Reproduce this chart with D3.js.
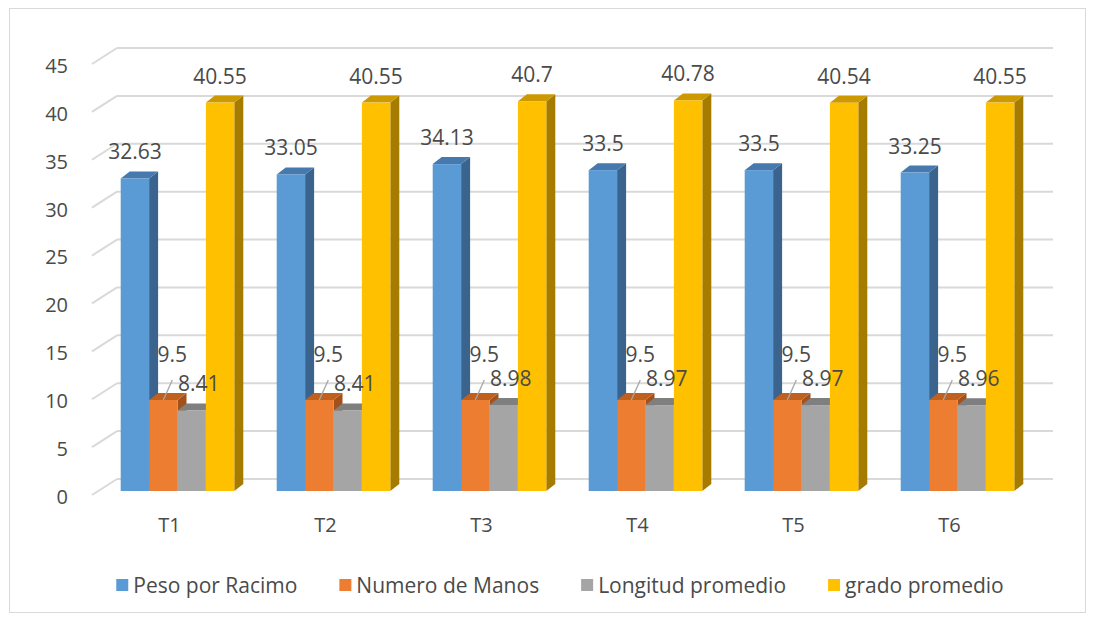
<!DOCTYPE html>
<html>
<head>
<meta charset="utf-8">
<script src="https://cdn.jsdelivr.net/npm/d3@7"></script>
<style>
  html, body { margin: 0; padding: 0; background: #ffffff; }
  svg { display: block; font-family: "Open Sans", "Noto Sans", sans-serif; }
</style>
</head>
<body>
<svg id="chart" width="1094" height="619"></svg>
<script>
// ---- data ----
const categories = ["T1", "T2", "T3", "T4", "T5", "T6"];
const seriesNames = ["Peso por Racimo", "Numero de Manos", "Longitud promedio", "grado promedio"];
const pesoPorRacimo   = [32.63, 33.05, 34.13, 33.5, 33.5, 33.25];
const numeroDeManos   = [9.5, 9.5, 9.5, 9.5, 9.5, 9.5];
const longitudPromedio = [8.41, 8.41, 8.98, 8.97, 8.97, 8.96];
const gradoPromedio   = [40.55, 40.55, 40.7, 40.78, 40.54, 40.55];
const yTicks = [0, 5, 10, 15, 20, 25, 30, 35, 40, 45];

const seriesValues = [pesoPorRacimo, numeroDeManos, longitudPromedio, gradoPromedio];

// ---- styles ----
const faceColors = [
  { front: "#5b9bd5", top: "#4679ad", side: "#3a648d" },
  { front: "#ed7d31", top: "#c0601f", side: "#a3511b" },
  { front: "#a5a5a5", top: "#7f7f7f", side: "#6e6e6e" },
  { front: "#ffc000", top: "#cc9a00", side: "#a67c00" }
];
const textColor = "#4a4a4a";
const gridColor = "#d9d9d9";

const svg = d3.select("#chart");

// border
svg.append("rect").attr("x", 9.5).attr("y", 8.5).attr("width", 1076).attr("height", 604)
  .attr("fill", "none").attr("stroke", "#d9d9d9").attr("stroke-width", 1);

// scales
const y = d3.scaleLinear().domain([0, 45]).range([491, 60]);
const x0 = d3.scaleBand().domain(categories).range([99.5, 1035.5]).padding(0);
const groupW = 113.6;
const x1 = d3.scaleBand().domain(seriesNames).range([0, groupW]).padding(0);

// 3D offsets
const wallDx = 25, wallBackDy = -12, wallFrontDy = 4;
const barDx = 9, barDy = -7;
const wallLeft = 92, wallRight = 1053;

// gridlines on back wall + diagonal on left wall
const grid = svg.append("g");
yTicks.forEach(t => {
  const yb = y(t) + wallBackDy;
  grid.append("line").attr("x1", wallLeft + wallDx).attr("x2", wallRight)
    .attr("y1", yb).attr("y2", yb).attr("stroke", gridColor).attr("stroke-width", 2);
  grid.append("line").attr("x1", wallLeft).attr("x2", wallLeft + wallDx)
    .attr("y1", y(t) + wallFrontDy).attr("y2", yb).attr("stroke", gridColor).attr("stroke-width", 2);
});

// y axis labels
const yAxis = d3.axisLeft(y).tickValues(yTicks).tickSize(0).tickPadding(0).tickFormat(d3.format("d"));
const yAxisG = svg.append("g").attr("transform", "translate(68,6)").call(yAxis);
yAxisG.select(".domain").remove();
yAxisG.selectAll("text").attr("fill", textColor).style("font-size", "20px")
  .style("font-family", "'Open Sans', 'Noto Sans', sans-serif");

// bars
const bars = svg.append("g");
categories.forEach((cat, ci) => {
  const gx = x0(cat) + x0.bandwidth() / 2 - groupW / 2;
  seriesNames.forEach((s, si) => {
    const v = seriesValues[si][ci];
    const xl = gx + x1(s), xr = xl + x1.bandwidth();
    const yt = y(v), yb = y(0);
    const c = faceColors[si];
    bars.append("path").attr("d",
      `M${xr},${yt} L${xr + barDx},${yt + barDy} L${xr + barDx},${yb + barDy} L${xr},${yb} Z`)
      .attr("fill", c.side);
    bars.append("path").attr("d",
      `M${xl},${yt} L${xl + barDx},${yt + barDy} L${xr + barDx},${yt + barDy} L${xr},${yt} Z`)
      .attr("fill", c.top);
    bars.append("rect").attr("x", xl).attr("y", yt).attr("width", xr - xl).attr("height", yb - yt)
      .attr("fill", c.front);
  });
});

// data labels
const labels = svg.append("g").attr("fill", textColor).style("font-size", "21px");
categories.forEach((cat, ci) => {
  const gx = x0(cat) + x0.bandwidth() / 2 - groupW / 2;
  const cx = s => gx + x1(s) + x1.bandwidth() / 2;
  [0, 3].forEach(si => {
    const v = seriesValues[si][ci];
    labels.append("text").attr("x", cx(seriesNames[si])).attr("y", y(v) - 19)
      .attr("text-anchor", "middle").text(v);
  });
  const vo = seriesValues[1][ci];
  const ox = cx(seriesNames[1]);
  svg.append("line").attr("x1", ox).attr("y1", y(vo)).attr("x2", ox + 9).attr("y2", y(vo) - 20)
    .attr("stroke", "#a6a6a6").attr("stroke-width", 1.3);
  labels.append("text").attr("x", ox + 9).attr("y", y(vo) - 38)
    .attr("text-anchor", "middle").text(vo);
  const vg = seriesValues[2][ci];
  labels.append("text").attr("x", cx(seriesNames[2]) + 7).attr("y", y(vg) - 19)
    .attr("text-anchor", "middle").text(vg);
});

// x axis category labels
const xAxis = d3.axisBottom(x0).tickSize(0).tickPadding(0);
const xAxisG = svg.append("g").attr("transform", "translate(-8,518)").call(xAxis);
xAxisG.select(".domain").remove();
xAxisG.selectAll("text").attr("fill", textColor).style("font-size", "20px")
  .style("font-family", "'Open Sans', 'Noto Sans', sans-serif");

// legend
const legend = svg.append("g");
const items = seriesNames.map((s, i) => {
  const g = legend.append("g");
  g.append("rect").attr("x", 0).attr("y", -6).attr("width", 12).attr("height", 12).attr("fill", faceColors[i].front);
  const t = g.append("text").attr("x", 17).attr("y", 7.5).attr("fill", textColor)
    .style("font-size", "21px").text(s);
  return { g, w: 17 + t.node().getComputedTextLength() };
});
const gap = 42;
const totalW = d3.sum(items, d => d.w) + gap * (items.length - 1);
let lx = 560 - totalW / 2;
items.forEach(it => { it.g.attr("transform", `translate(${lx},585)`); lx += it.w + gap; });
</script>
</body>
</html>
